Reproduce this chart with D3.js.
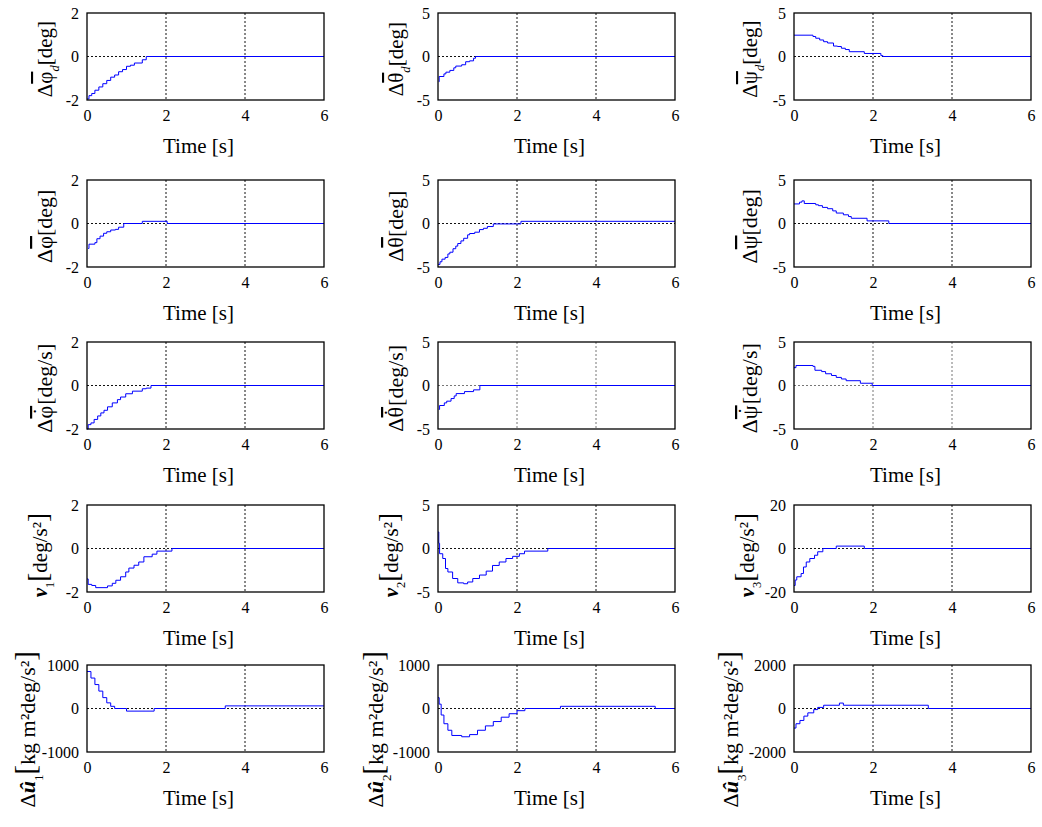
<!DOCTYPE html>
<html><head><meta charset="utf-8">
<script src="https://cdn.jsdelivr.net/npm/d3@7"></script>
<style>
html,body{margin:0;padding:0;background:#fff;}
svg text{font-family:"Liberation Serif","Times New Roman",serif;fill:#000;}
</style></head>
<body>
<svg id="chart" width="1042" height="827"></svg>
<script>
// ---------- data ----------
const timeTicks = [0, 2, 4, 6];
const tickDeg2 = [-2, 0, 2];
const tickDeg5 = [-5, 0, 5];
const tickDeg20 = [-20, 0, 20];
const tickU1000 = [-1000, 0, 1000];
const tickU2000 = [-2000, 0, 2000];

const phiD_t = [0, 0.05, 0.12, 0.2, 0.3, 0.4, 0.5, 0.6, 0.7, 0.8, 0.9, 1.0, 1.1, 1.2, 1.4, 1.5, 6];
const phiD_v = [-1.95, -1.8, -1.7, -1.55, -1.4, -1.25, -1.1, -0.95, -0.85, -0.7, -0.6, -0.45, -0.4, -0.3, -0.15, 0, 0];

const thetaD_t = [0.02, 0.03, 0.15, 0.2, 0.3, 0.4, 0.45, 0.6, 0.7, 0.8, 0.9, 0.95, 6];
const thetaD_v = [-2.9, -2.3, -2.0, -1.8, -1.6, -1.3, -1.1, -0.95, -0.6, -0.5, -0.2, 0, 0];

const psiD_t = [0, 0.48, 0.55, 0.65, 0.75, 0.85, 1.0, 1.1, 1.2, 1.3, 1.4, 1.78, 2.2, 2.25, 6];
const psiD_v = [2.45, 2.3, 2.1, 1.9, 1.7, 1.55, 1.2, 1.15, 0.95, 0.8, 0.55, 0.35, 0.1, 0, 0];

const phi_t = [0.03, 0.05, 0.2, 0.25, 0.33, 0.42, 0.5, 0.6, 0.72, 0.8, 0.93, 1.4, 2.03, 6];
const phi_v = [-1.15, -0.95, -0.88, -0.7, -0.58, -0.45, -0.38, -0.3, -0.27, -0.17, 0, 0.1, 0, 0];

const theta_t = [0, 0.05, 0.1, 0.18, 0.25, 0.3, 0.38, 0.45, 0.5, 0.58, 0.65, 0.75, 0.8, 0.93, 1.05, 1.15, 1.25, 1.4, 2.1, 6];
const theta_v = [-4.7, -4.4, -4.1, -3.9, -3.5, -3.3, -2.9, -2.6, -2.3, -2.0, -1.7, -1.3, -1.15, -1.0, -0.7, -0.55, -0.35, -0.05, 0.25, 0.25];

const psi_t = [0, 0.14, 0.2, 0.26, 0.55, 0.62, 0.72, 0.85, 0.98, 1.07, 1.25, 1.38, 1.45, 1.85, 2.4, 6];
const psi_v = [2.25, 2.45, 2.6, 2.3, 2.15, 2.05, 1.85, 1.7, 1.45, 1.2, 1.0, 0.8, 0.6, 0.3, 0, 0];

const phiDot_t = [0, 0.03, 0.1, 0.18, 0.27, 0.35, 0.43, 0.52, 0.64, 0.77, 0.85, 0.98, 1.15, 1.4, 1.5, 1.62, 6];
const phiDot_v = [-2.0, -1.8, -1.72, -1.56, -1.4, -1.26, -1.14, -0.98, -0.8, -0.65, -0.53, -0.38, -0.26, -0.15, -0.12, 0, 0];

const thetaDot_t = [0.02, 0.04, 0.16, 0.22, 0.33, 0.41, 0.46, 0.67, 0.9, 1.06, 6];
const thetaDot_v = [-2.75, -2.3, -2.0, -1.8, -1.5, -1.2, -0.93, -0.7, -0.5, 0, 0];

const psiDot_t = [0, 0.05, 0.48, 0.53, 0.7, 0.8, 0.95, 1.07, 1.2, 1.32, 1.68, 1.98, 6];
const psiDot_v = [2.05, 2.3, 2.2, 1.75, 1.6, 1.35, 1.15, 0.93, 0.75, 0.55, 0.26, 0, 0];

const v1_t = [0, 0.03, 0.12, 0.22, 0.52, 0.64, 0.73, 0.85, 0.98, 1.06, 1.19, 1.31, 1.44, 1.65, 1.77, 2.15, 6];
const v1_v = [-1.4, -1.65, -1.7, -1.8, -1.72, -1.6, -1.46, -1.3, -1.08, -0.9, -0.77, -0.62, -0.38, -0.26, -0.12, 0, 0];

const v2_t = [0, 0.02, 0.04, 0.12, 0.19, 0.25, 0.37, 0.5, 0.65, 0.75, 0.88, 1.05, 1.22, 1.38, 1.55, 1.72, 1.89, 2.06, 2.19, 2.78, 6];
const v2_v = [1.9, 0.6, -0.6, -1.15, -2.3, -2.7, -3.45, -3.95, -4.05, -3.85, -3.45, -3.05, -2.6, -1.95, -1.55, -1.15, -0.9, -0.6, -0.3, 0, 0];

const v3_t = [0, 0.03, 0.07, 0.18, 0.24, 0.31, 0.4, 0.52, 0.6, 0.73, 1.07, 1.78, 6];
const v3_v = [-17, -14.5, -13, -11.5, -8.5, -6.2, -4.6, -3.1, -1.5, 0, 1.1, 0, 0];

const u1_t = [0, 0.1, 0.2, 0.3, 0.4, 0.5, 0.6, 0.7, 1.0, 1.7, 3.5, 6];
const u1_v = [850, 700, 550, 400, 250, 130, 50, 0, -60, 0, 60, 60];

const u2_t = [0, 0.03, 0.08, 0.15, 0.25, 0.35, 0.6, 0.8, 1.0, 1.2, 1.4, 1.6, 1.8, 2.0, 2.2, 3.1, 5.5, 6];
const u2_v = [250, 100, -150, -350, -500, -620, -650, -600, -500, -400, -300, -200, -120, -50, 0, 50, 0, 0];

const u3_t = [0, 0.05, 0.15, 0.25, 0.35, 0.5, 0.6, 0.75, 1.15, 1.25, 3.4, 6];
const u3_v = [-900, -700, -550, -350, -200, -50, 50, 150, 250, 150, 0, 0];

// ---------- layout ----------
const colLeft = [87, 438, 794];
const plotW = 237;
const rowTop = [13, 180, 342, 505, 665];
const plotH = 87;

const degL = [{s:"[deg]"}];
const degsL = [{s:"[deg/s]"}];
const vL = [{s:"[",big:1},{s:"deg/s²"},{s:"]",big:1}];
const uL = [{s:"[",big:1},{s:"kg m²deg/s²"},{s:"]",big:1}];

const panels = [
  {r:0,c:0,t:phiD_t,v:phiD_v,dom:[-2,2],ticks:tickDeg2,label:[{s:"Δ"},{s:"φ",over:1},{s:"d",sub:1,it:1},...degL]},
  {r:0,c:1,t:thetaD_t,v:thetaD_v,dom:[-5,5],ticks:tickDeg5,label:[{s:"Δ"},{s:"θ",over:1},{s:"d",sub:1,it:1},...degL]},
  {r:0,c:2,t:psiD_t,v:psiD_v,dom:[-5,5],ticks:tickDeg5,label:[{s:"Δ"},{s:"ψ",over:1},{s:"d",sub:1,it:1},...degL]},
  {r:1,c:0,t:phi_t,v:phi_v,dom:[-2,2],ticks:tickDeg2,label:[{s:"Δ"},{s:"φ",over:1},...degL]},
  {r:1,c:1,t:theta_t,v:theta_v,dom:[-5,5],ticks:tickDeg5,label:[{s:"Δ"},{s:"θ",over:1},...degL]},
  {r:1,c:2,t:psi_t,v:psi_v,dom:[-5,5],ticks:tickDeg5,label:[{s:"Δ"},{s:"ψ",over:1},...degL]},
  {r:2,c:0,t:phiDot_t,v:phiDot_v,dom:[-2,2],ticks:tickDeg2,label:[{s:"Δ"},{s:"φ",over:1,dot:1},...degsL]},
  {r:2,c:1,t:thetaDot_t,v:thetaDot_v,dom:[-5,5],ticks:tickDeg5,grey:1,label:[{s:"Δ"},{s:"θ",over:1,dot:1},...degsL]},
  {r:2,c:2,t:psiDot_t,v:psiDot_v,dom:[-5,5],ticks:tickDeg5,grey:1,label:[{s:"Δ"},{s:"ψ",over:1,dot:1},...degsL]},
  {r:3,c:0,t:v1_t,v:v1_v,dom:[-2,2],ticks:tickDeg2,label:[{s:"v",b:1,it:1},{s:"1",sub:1},...vL]},
  {r:3,c:1,t:v2_t,v:v2_v,dom:[-5,5],ticks:tickDeg5,label:[{s:"v",b:1,it:1},{s:"2",sub:1},...vL]},
  {r:3,c:2,t:v3_t,v:v3_v,dom:[-20,20],ticks:tickDeg20,label:[{s:"v",b:1,it:1},{s:"3",sub:1},...vL]},
  {r:4,c:0,t:u1_t,v:u1_v,dom:[-1000,1000],ticks:tickU1000,label:[{s:"Δ"},{s:"û",b:1,it:1},{s:"1",sub:1},...uL]},
  {r:4,c:1,t:u2_t,v:u2_v,dom:[-1000,1000],ticks:tickU1000,label:[{s:"Δ"},{s:"û",b:1,it:1},{s:"2",sub:1},...uL]},
  {r:4,c:2,t:u3_t,v:u3_v,dom:[-2000,2000],ticks:tickU2000,label:[{s:"Δ"},{s:"û",b:1,it:1},{s:"3",sub:1},...uL]},
];

const labelX = [[-35,-35,-37],[-35,-35,-37],[-35,-35,-37],[-40,-40,-40],[-52,-55,-56]];
const labelDY = [0, 0, 0, 4, 18];
const labelFS = [21, 22, 22, 21, 22];

const svg = d3.select("#chart");

panels.forEach(p => {
  const x0 = colLeft[p.c], y0 = rowTop[p.r];
  const g = svg.append("g").attr("transform", `translate(${x0},${y0})`);
  const x = d3.scaleLinear().domain([0, 6]).range([0, plotW]);
  const y = d3.scaleLinear().domain(p.dom).range([plotH, 0]);

  g.append("rect").attr("width", plotW).attr("height", plotH).attr("fill", "#fff");

  // grid
  const gc = p.grey ? "#777" : "#111";
  const gridX = [2, 4];
  g.selectAll(".gx").data(gridX).enter().append("line")
    .attr("x1", d => x(d)).attr("x2", d => x(d)).attr("y1", 0).attr("y2", plotH)
    .attr("stroke", gc).attr("stroke-width", 1).attr("stroke-dasharray", "2,2");
  g.append("line").attr("x1", 0).attr("x2", plotW).attr("y1", y(0)).attr("y2", y(0))
    .attr("stroke", gc).attr("stroke-width", 1).attr("stroke-dasharray", "2,2");

  // series
  const pts = p.t.map((t, i) => [t, p.v[i]]);
  const line = d3.line().x(d => x(d[0])).y(d => y(d[1])).curve(d3.curveStepAfter);
  g.append("path").attr("d", line(pts)).attr("fill", "none")
    .attr("stroke", "#0000ff").attr("stroke-width", 1);

  // box
  g.append("rect").attr("width", plotW).attr("height", plotH)
    .attr("fill", "none").attr("stroke", "#000").attr("stroke-width", 1.3);

  // axes
  const xa = g.append("g").attr("transform", `translate(0,${plotH})`)
    .call(d3.axisBottom(x).tickValues(timeTicks).tickSize(0).tickPadding(10).tickFormat(d3.format("d")));
  xa.select(".domain").remove();
  xa.selectAll("text").attr("font-size", 16);

  const ya = g.append("g")
    .call(d3.axisLeft(y).tickValues(p.ticks).tickSize(0).tickPadding(8).tickFormat(d3.format("d")));
  ya.select(".domain").remove();
  ya.selectAll("text").attr("font-size", 16)
    .text(d => d < 0 ? "-" + Math.abs(d) : String(d));

  // x label
  g.append("text").attr("x", plotW / 2 - 7).attr("y", plotH + 53)
    .attr("text-anchor", "middle").attr("font-size", 21).text("Time [s]");

  // y label
  const lx = labelX[p.r][p.c];
  const ly = plotH / 2 + labelDY[p.r];
  const fs = labelFS[p.r];
  const yl = g.append("text").attr("transform", `translate(${lx},${ly}) rotate(-90)`)
    .attr("text-anchor", "middle").attr("font-size", fs);
  p.label.forEach(s => {
    const ts = yl.append("tspan").text(s.s);
    if (s.sub) ts.attr("baseline-shift", "sub").attr("font-size", fs * 0.6);
    if (s.it) ts.attr("font-style", "italic");
    if (s.b) ts.attr("font-weight", "bold");
    if (s.big) ts.attr("font-size", fs * 1.3);
    if (s.over) ts.style("text-decoration", "overline");
    if (s.dot) {
      yl.append("tspan").text("\u02D9").attr("dx", -fs * 0.42).attr("dy", -fs * 0.2);
      yl.append("tspan").text("\u200A").attr("dx", fs * 0.05).attr("dy", fs * 0.2);
    }
  });
  yl.append("tspan").text("\u00A0");
});
</script>
</body></html>
